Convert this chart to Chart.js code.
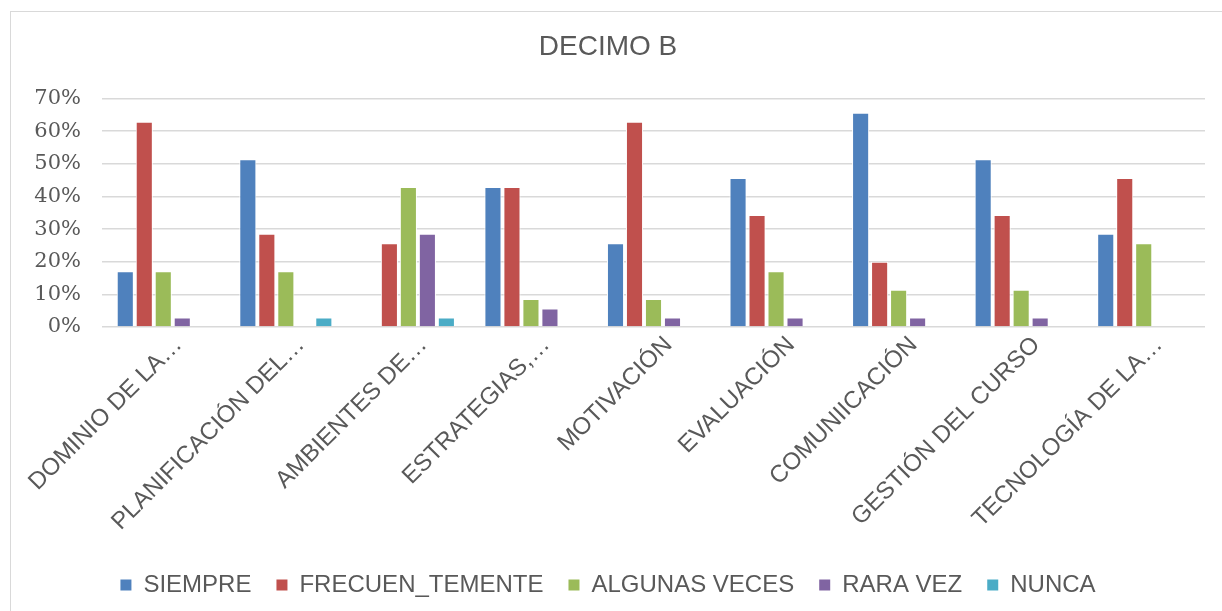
<!DOCTYPE html>
<html><head><meta charset="utf-8">
<script src="https://cdn.jsdelivr.net/npm/chart.js@4.4.1/dist/chart.umd.min.js"></script>
<style>
html,body{margin:0;padding:0;background:#fff;overflow:hidden;}
#frame{position:absolute;left:10px;top:11px;width:1240px;height:640px;border:1px solid #d9d9d9;box-sizing:border-box;}
#wrap{position:absolute;left:0;top:0;width:1199px;height:630px;}
</style></head><body>
<div id="frame"><div id="wrap"><canvas id="c"></canvas></div></div>
<script>
const categories = ["DOMINIO DE LA…","PLANIFICACIÓN DEL…","AMBIENTES DE…","ESTRATEGIAS,…","MOTIVACIÓN","EVALUACIÓN","COMUNIICACIÓN","GESTIÓN DEL CURSO","TECNOLOGÍA DE LA…"];
const siempre = [0.171,0.514,0,0.429,0.257,0.457,0.657,0.514,0.286];
const frecuentemente = [0.629,0.286,0.257,0.429,0.629,0.343,0.200,0.343,0.457];
const algunasVeces = [0.171,0.171,0.429,0.086,0.086,0.171,0.114,0.114,0.257];
const raraVez = [0.029,0,0.286,0.057,0.029,0.029,0.029,0.029,0];
const nunca = [0,0.029,0.029,0,0,0,0,0,0];
const seriesNames = ["SIEMPRE","FRECUEN_TEMENTE","ALGUNAS VECES","RARA VEZ","NUNCA"];
const colors = ["#4f81bd","#c0504d","#9bbb59","#8064a2","#4bacc6"];
const yTicks = [0,0.1,0.2,0.3,0.4,0.5,0.6,0.7];

const data = [siempre,frecuentemente,algunasVeces,raraVez,nunca];
new Chart(document.getElementById('c'), {
  type:'bar',
  data:{labels:categories,datasets:data.map((d,i)=>({label:seriesNames[i],data:d,backgroundColor:colors[i],borderColor:'#ffffff',borderWidth:1,categoryPercentage:0.775,barPercentage:0.9}))},
  options:{
    responsive:true,maintainAspectRatio:false,animation:false,
    layout:{padding:{left:0,right:5,top:18,bottom:35}},
    plugins:{
      title:{display:true,text:'DECIMO B',color:'#595959',font:{family:'Liberation Sans',size:28,weight:'normal'},padding:{top:0,bottom:35}},
      legend:{position:'bottom',labels:{color:'#595959',font:{family:'Liberation Sans',size:24},boxWidth:11,boxHeight:11,padding:25,generateLabels:(ch)=>ch.data.datasets.map((ds,i)=>({text:ds.label,fillStyle:ds.backgroundColor,strokeStyle:ds.backgroundColor,lineWidth:0,datasetIndex:i,fontColor:'#595959'}))}},
      tooltip:{enabled:false}
    },
    scales:{
      x:{grid:{display:false},border:{display:false},ticks:{color:'#595959',font:{family:'Liberation Sans',size:24},maxRotation:45,minRotation:45,padding:-4,labelOffset:15,autoSkip:false},
         afterFit:(s)=>{s.height=221;}},
      y:{min:0,max:0.7,afterBuildTicks:(s)=>{s.ticks=yTicks.map(v=>({value:v}));},
         grid:{color:'#d9d9d9',lineWidth:1.5,drawTicks:false},border:{display:false},
         ticks:{color:'#595959',font:{family:'DejaVu Serif',size:21},padding:21,callback:(v)=>Math.round(v*100)+'%'},
         afterFit:(s)=>{s.width=91;}}
    }
  }
});
</script></body></html>
